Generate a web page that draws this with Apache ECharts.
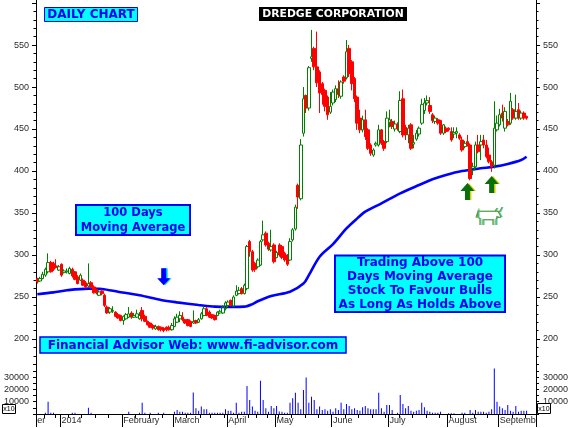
<!DOCTYPE html>
<html><head><meta charset="utf-8">
<script src="https://cdn.jsdelivr.net/npm/echarts@6/dist/echarts.min.js"></script>
<style>html,body{margin:0;padding:0;background:#fff;}#c{width:571px;height:428px;}</style>
</head><body><div id="c"></div>
<script>
// ---- trading days (categories) ----
const dec13 = [18,19,20,23,24,26,27,30,31];
const jan14 = [1,2,3,6,7,8,9,10,13,14,15,16,17,20,21,22,23,24,27,28,29,30,31];
const feb14 = [3,4,5,6,7,10,11,12,13,14,17,18,19,20,21,24,25,26,28];
const mar14 = [3,4,5,6,7,10,11,12,13,14,18,19,20,21,24,25,26,27,28,31];
const apr14 = [1,2,3,4,7,9,10,11,15,16,17,21,22,23,25,28,29,30];
const may14 = [2,5,6,7,8,9,12,13,14,15,16,19,20,21,22,23,26,27,28,29,30];
const jun14 = [2,3,4,5,6,9,10,11,12,13,16,17,18,19,20,23,24,25,26,27,30];
const jul14 = [1,2,3,4,7,8,9,10,11,14,15,16,17,18,21,22,23,24,25,28,30,31];
const aug14 = [1,4,5,6,7,8,11,12,13,14,18,19,20,21,22,25,26,27,28];
const sep14 = [1,2,3,4,5,8,9,10,11,12,15];
const monthNames = ['er','2014','February','March','April','May','June','July','August','September'];

// ---- prices ----
const opens = [272,269,272,276,280,291,290,287,282,289,
279,280,278,283,280,274,270,270,267,263,
267,262,259,252,257,252,238,232,233,232,
229,228,222,224,226,231,226,226,224,234,
227,221,219,216,212,215,214,213,214,214,
211,215,220,224,226,223,223,221,219,222,
220,224,228,236,232,229,228,228,231,231,
236,240,246,239,252,254,260,254,260,316,
304,290,286,288,318,326,314,306,312,297,
312,310,302,300,294,318,331,383,367,445,
490,475,534,546,524,518,504,496,488,470,
481,485,498,489,512,511,546,530,510,488,
463,449,461,449,431,419,431,431,449,435,
435,458,459,450,455,447,486,452,443,455,
432,438,444,457,472,481,478,467,459,461,
460,445,451,451,447,444,445,443,437,429,
435,431,401,405,431,431,437,431,419,411,
407,449,455,469,451,459,457,473,463,473,
463,469,465];
const closes = [268,272,277,283,291,280,283,285,286,276,
281,281,284,275,271,266,276,264,262,266,
262,255,255,256,254,240,231,236,234,227,
225,222,227,229,230,226,228,230,228,224,
221,217,214,213,215,211,211,210,211,211,
216,224,226,228,223,219,216,215,221,219,
223,230,236,228,226,225,223,232,233,238,
243,244,240,250,257,258,254,264,310,304,
282,283,294,316,324,312,307,310,292,303,
300,297,294,289,316,330,357,369,431,486,
475,523,536,524,505,493,491,477,467,477,
494,498,491,506,507,542,516,504,486,457,
449,461,441,427,421,425,433,449,433,427,
463,461,453,456,451,484,443,443,451,427,
434,445,451,479,481,484,471,460,463,457,
445,455,447,449,437,446,447,439,425,433,
431,391,405,431,423,435,431,417,411,405,
451,457,467,463,471,455,483,463,471,463,
469,463,463];
const lows = [266,268,271,274,278,279,281,284,281,274,
278,278,277,273,270,265,269,263,260,261,
260,254,253,251,252,238,230,230,231,226,
224,221,217,223,225,224,225,225,223,221,
220,216,213,211,211,210,209,208,209,210,
210,214,219,220,221,218,215,214,218,218,
219,223,227,227,225,224,222,227,230,230,
234,238,239,238,251,253,253,253,258,298,
280,280,284,287,316,310,305,304,290,296,
298,295,292,287,293,316,329,355,365,441,
469,472,530,520,500,469,479,471,461,468,
478,482,487,486,504,509,512,496,482,449,
445,446,437,425,418,417,429,429,431,424,
433,452,450,447,448,445,440,437,433,425,
427,436,441,455,468,478,468,457,456,455,
443,443,445,447,435,439,439,437,423,427,
429,389,395,403,421,413,427,415,409,399,
403,447,453,459,447,453,455,461,461,461,
461,461,461];
const highs = [273,274,280,285,302,293,292,295,288,290,
283,284,286,285,281,276,278,272,269,290,
269,264,260,258,259,254,240,238,239,233,
231,229,228,231,238,233,231,235,232,238,
229,222,220,218,217,216,215,214,215,216,
219,227,230,233,232,224,224,222,234,223,
225,232,239,238,234,230,229,233,235,240,
245,246,247,252,264,262,262,266,312,318,
306,292,296,318,341,328,316,330,314,305,
314,312,304,301,320,332,360,385,438,500,
491,525,568,548,566,520,506,498,490,494,
497,502,508,508,514,556,550,532,512,490,
473,466,473,451,433,427,435,455,450,437,
471,473,462,460,458,495,497,455,455,457,
443,449,453,486,487,490,488,469,466,463,
461,456,453,452,452,452,452,445,441,436,
443,433,410,435,443,443,443,437,428,413,
483,466,474,479,476,462,493,475,491,481,
472,471,466];

// ---- volume (x10) ----
const volumes = [0,0,0,1000,10000,1000,1000,0,0,0,
0,0,0,1000,1000,0,0,0,0,5100,
1000,0,0,0,0,0,0,0,0,0,
0,0,0,0,1900,0,0,0,1000,9200,
1000,0,1000,0,0,1000,0,1000,0,0,
0,1900,3300,1900,1900,1000,1000,1000,17500,4600,
2700,6000,3800,3800,1000,1000,1000,1000,1000,1000,
3800,2700,2700,1000,9200,1000,1900,1900,22700,11400,
6000,2700,1900,27000,11400,4600,1900,6500,4600,6500,
2000,1900,1000,1000,9200,12700,17300,9200,3800,19500,
29700,9200,14000,11400,3800,6000,3200,3800,2700,3800,
1900,4600,3200,9200,3800,8100,6500,3800,4600,3200,
2700,5400,6500,4600,3800,3800,3800,17300,4600,1900,
7300,7300,3200,0,1000,15400,8100,4600,6500,2700,
1900,2700,3200,9200,5400,2700,1900,1000,1000,1000,
1900,0,0,540,540,540,0,0,1000,1000,
0,3200,1000,3200,1900,1900,1900,1000,1900,3800,
37000,10000,6000,4600,3200,7300,2700,1900,6500,1900,
2700,2700,2700];

// ---- 100 day moving average, read at these trading-day indices ----
const maDays   = [0,6,11,19,24,30,38,46,52,60,66,72,77,80,82,87,94,99,101,105,110,115,119,122,128,135,142,147,152,158,165,170,175,180,182];
const maValues = [253.2,255.5,258,260,259.5,256.3,252,246.4,243.6,240.5,238.5,238.3,238.5,241.5,245,251.2,256.3,266,276,298,313,331.7,343.6,351.6,361.5,373.4,383.3,390.1,395.3,400,403.2,405.2,408.4,413.1,417];

// ---- axis ticks / labels ----
const priceLabels = [200,250,300,350,400,450,500,550];
const priceMajorTicks = [200,250,300,350,400,450,500,550,600];
const priceMinorTicks = [180,190,210,220,230,240,260,270,280,290,310,320,330,340,360,370,380,390,410,420,430,440,460,470,480,490,510,520,530,540,560,570,580,590];
const volumeLabels = [10000,20000,30000];

// annotations (trading-day index, price)
const downArrowAt = [47, 274];
const upArrowsAt = [[160, 375.6], [169, 383.9]];
const bullAt = [168, 346.4];

// ---- build categories ----
const monthsList = [[2013,12,dec13],[2014,1,jan14],[2014,2,feb14],[2014,3,mar14],[2014,4,apr14],[2014,5,may14],[2014,6,jun14],[2014,7,jul14],[2014,8,aug14],[2014,9,sep14]];
const dates = [], monthOf = [];
monthsList.forEach(([y,m,days], mi) => days.forEach(d => { dates.push(new Date(Date.UTC(y, m-1, d))); monthOf.push(mi); }));
const categories = dates.map(d => d.toISOString().slice(0,10));
const PAD = 3;
for (let k = 0; k < PAD; k++) categories.push('pad' + k);
const isMonthStart = k => k < dates.length && (k === 0 || monthOf[k] !== monthOf[k-1]);
const isWeekStart = k => k > 0 && k < dates.length && dates[k].getUTCDay() <= dates[k-1].getUTCDay();

const candleRows = opens.map((o,k) => [o, closes[k], lows[k], highs[k]]);
const maData = maDays.map((d,k) => [d, maValues[k]]);

// ---- layout ----
const L = 36, R = 35;
const priceMax = 603.6, priceMin = 169.4;
const axisFont = { fontFamily: '"Liberation Sans", Arial, sans-serif', fontSize: 9, color: '#2a2a2a' };
const blk = { color: '#000', width: 1 };

function priceAxis(pos, major) {
  return {
    gridIndex: 0, type: 'value', position: pos, min: priceMin, max: priceMax,
    axisLine: { show: major, lineStyle: blk },
    axisTick: { show: true, length: major ? 4 : 2.5, customValues: major ? priceMajorTicks : priceMinorTicks, lineStyle: blk },
    axisLabel: major ? Object.assign({ customValues: priceLabels, margin: 7 }, axisFont) : { show: false },
    splitLine: { show: false }
  };
}
function volAxis(pos) {
  return {
    gridIndex: 1, type: 'value', position: pos, min: 0, max: 40000, interval: 5000,
    axisLine: { show: true, lineStyle: blk },
    axisTick: { show: true, length: 3, lineStyle: blk },
    axisLabel: Object.assign({ margin: 7, formatter: v => volumeLabels.indexOf(v) >= 0 ? String(v) : '' }, axisFont),
    splitLine: { show: false }
  };
}

const blue = '#0000ee';
const boxFont = '"DejaVu Sans", Verdana, sans-serif';
const downArrow = 'path://M4,0 L9,0 L9,10 L13,10 L6.5,17 L0,10 L4,10 Z';
const upArrow = 'path://M7,0 L14,8 L9.5,8 L9.5,17 L4.5,17 L4.5,8 L0,8 Z';
const bullPath = 'path://M2,5 L19,5 L21,2 M19,5 L24,5 L26,1 M22,5 L25,10 L23,11 L21,10 L20,13 L20,18 M17,18 L17,13 L7,13 L7,18 M4,18 L4,12 L2,11 L2,5 L0,11';

const chart = echarts.init(document.getElementById('c'));
chart.setOption({
  animation: false,
  backgroundColor: '#fff',
  grid: [
    { left: L, right: R, top: 0, height: 364.7 },
    { left: L, right: R, top: 364.7, height: 49.3 }
  ],
  xAxis: [
    { gridIndex: 0, type: 'category', data: categories, show: false, boundaryGap: true },
    { gridIndex: 1, type: 'category', data: categories, position: 'bottom', boundaryGap: true,
      axisLine: { show: true, lineStyle: blk },
      axisTick: { show: true, length: 4, interval: (k) => isWeekStart(k), lineStyle: blk },
      axisLabel: { show: false }, splitLine: { show: false } },
    { gridIndex: 1, type: 'category', data: categories, position: 'bottom', boundaryGap: true,
      axisLine: { show: false },
      axisTick: { show: true, length: 13, interval: (k) => isMonthStart(k), lineStyle: blk },
      axisLabel: Object.assign({ interval: (k) => isMonthStart(k), align: 'left', margin: 2,
        width: 40, overflow: 'truncate', ellipsis: '',
        formatter: (v, k) => isMonthStart(k) ? monthNames[monthOf[k]] : '' }, axisFont),
      splitLine: { show: false } }
  ],
  yAxis: [ priceAxis('left', true), priceAxis('left', false), priceAxis('right', true), priceAxis('right', false), volAxis('left'), volAxis('right') ],
  series: [
    { type: 'line', xAxisIndex: 0, yAxisIndex: 0, data: maData, showSymbol: false, z: 2, smooth: 0.3,
      lineStyle: { color: '#0000ff', width: 2.6 },
      markPoint: { silent: true, label: { show: false }, data: [
        { coord: downArrowAt, symbol: downArrow, symbolSize: [13,17], itemStyle: { color: '#0000ff', shadowColor: '#00d8ff', shadowOffsetX: 1.5 } },
        { coord: upArrowsAt[0], symbol: upArrow, symbolSize: [14,17], itemStyle: { color: '#0a6e0a', shadowColor: '#d8d800', shadowOffsetX: 1.5 } },
        { coord: upArrowsAt[1], symbol: upArrow, symbolSize: [14,17], itemStyle: { color: '#0a6e0a', shadowColor: '#d8d800', shadowOffsetX: 1.5 } },
        { coord: bullAt, symbol: bullPath, symbolSize: [26,18], itemStyle: { color: 'none', borderColor: '#6a9a28', borderWidth: 1, shadowColor: '#40d0d0', shadowOffsetX: 1 } }
      ] } },
    { type: 'candlestick', xAxisIndex: 0, yAxisIndex: 0, data: candleRows, barWidth: 3, z: 3,
      itemStyle: { color: 'rgba(0,0,0,0)', color0: '#ff0000', borderColor: '#008000', borderColor0: '#ff0000', borderWidth: 1 } },
    { type: 'bar', xAxisIndex: 1, yAxisIndex: 4, data: volumes, barWidth: 1, itemStyle: { color: '#0000ff' } }
  ],
  graphic: [
    { type: 'rect', z: 100, shape: { x: 44.5, y: 7.5, width: 93, height: 14 }, style: { fill: '#00ffff', stroke: '#0000ff', lineWidth: 1 } },
    { type: 'text', z: 101, x: 91, y: 15, style: { text: 'DAILY CHART', font: 'bold 12px ' + boxFont, fill: blue, align: 'center', verticalAlign: 'middle' } },
    { type: 'rect', z: 100, shape: { x: 259, y: 7, width: 148, height: 14 }, style: { fill: '#000' } },
    { type: 'text', z: 101, x: 333, y: 14.5, style: { text: 'DREDGE CORPORATION', font: 'bold 10.8px ' + boxFont, fill: '#fff', align: 'center', verticalAlign: 'middle' } },
    { type: 'rect', z: 100, shape: { x: 76, y: 205, width: 114, height: 30 }, style: { fill: '#00ffff', stroke: '#0000ff', lineWidth: 2 } },
    { type: 'text', z: 101, x: 133, y: 220.5, style: { text: '100 Days\nMoving Average', font: 'bold 11.5px ' + boxFont, lineHeight: 15, fill: blue, align: 'center', verticalAlign: 'middle' } },
    { type: 'rect', z: 100, shape: { x: 335, y: 255.5, width: 170, height: 56.5 }, style: { fill: '#00ffff', stroke: '#0000ff', lineWidth: 2 } },
    { type: 'text', z: 101, x: 420, y: 284, style: { text: 'Trading Above 100\nDays Moving Average\nStock To Favour Bulls\nAs Long As Holds Above', font: 'bold 12px ' + boxFont, lineHeight: 14, fill: blue, align: 'center', verticalAlign: 'middle' } },
    { type: 'rect', z: 100, shape: { x: 40, y: 337, width: 306, height: 16 }, style: { fill: '#00ffff', stroke: '#0000ff', lineWidth: 1.5 } },
    { type: 'text', z: 101, x: 193, y: 345.5, style: { text: 'Financial Advisor Web: www.fi-advisor.com', font: 'bold 12px ' + boxFont, fill: blue, align: 'center', verticalAlign: 'middle' } },
    { type: 'rect', z: 100, shape: { x: 2.5, y: 404.5, width: 13, height: 9 }, style: { fill: '#fff', stroke: '#000', lineWidth: 1 } },
    { type: 'text', z: 101, x: 9, y: 409.5, style: { text: 'x10', font: '7px "Liberation Sans", Arial, sans-serif', fill: '#000', align: 'center', verticalAlign: 'middle' } },
    { type: 'rect', z: 100, shape: { x: 537.5, y: 403.5, width: 13, height: 10 }, style: { fill: '#fff', stroke: '#000', lineWidth: 1 } },
    { type: 'text', z: 101, x: 544, y: 409, style: { text: 'x10', font: '7px "Liberation Sans", Arial, sans-serif', fill: '#000', align: 'center', verticalAlign: 'middle' } }
  ]
});
</script>
</body></html>
